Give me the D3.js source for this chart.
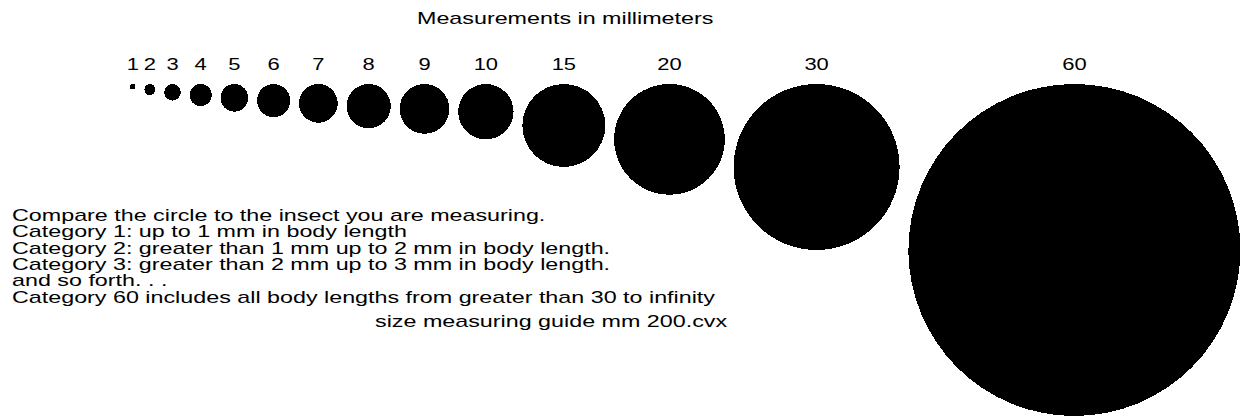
<!DOCTYPE html>
<html>
<head>
<meta charset="utf-8">
<script src="https://cdn.jsdelivr.net/npm/d3@7"></script>
<style>
  body { margin: 0; background: #fff; }
  text { font-family: "Liberation Sans", Arial, sans-serif; fill: #000; }
</style>
</head>
<body>
<div id="chart"></div>
<script>
// circle sizes in mm and the label over each one
const sizes = [1, 2, 3, 4, 5, 6, 7, 8, 9, 10, 15, 20, 30, 60];
const sizeLabels = ["1", "2", "3", "4", "5", "6", "7", "8", "9", "10", "15", "20", "30", "60"];

const title = "Measurements in millimeters";
const notes = [
	"Compare the circle to the insect you are measuring.",
	"Category 1: up to 1 mm in body length",
	"Category 2: greater than 1 mm up to 2 mm in body length.",
	"Category 3: greater than 2 mm up to 3 mm in body length.",
	"and so forth. . .",
	"Category 60 includes all body lengths from greater than 30 to infinity"
];
const caption = "size measuring guide mm 200.cvx";

const width = 1249, height = 417;
const startX = 130, gap = 8.8, topY = 84;
const stretch = 1.37; // the old bitmap font is much wider than Arial

const svg = d3.select("#chart").append("svg")
	.attr("width", width)
	.attr("height", height);

// radius in px for a size in mm
const r = d3.scaleLinear().domain([0, 60]).range([0, 166]);

// circles sit side by side, tops lined up
var lefts = [];
var x = startX;
sizes.forEach(s => {
	lefts.push(x);
	x += 2 * r(s) + gap;
});

svg.selectAll("circle.size")
	.data(sizes)
	.enter()
	.append("circle")
	.attr("class", "size")
	.attr("cx", (d, i) => lefts[i] + r(d))
	.attr("cy", d => topY + r(d))
	.attr("r", d => r(d))
	.attr("shape-rendering", "crispEdges")
	.style("fill", "#000");

function wide(sel) {
	sel.each(function() {
		var w = this.getComputedTextLength();
		d3.select(this)
			.attr("textLength", w * stretch)
			.attr("lengthAdjust", "spacingAndGlyphs");
	});
}

svg.selectAll("text.label")
	.data(sizes)
	.enter()
	.append("text")
	.attr("class", "label")
	.attr("x", (d, i) => lefts[i] + r(d))
	.attr("y", 70)
	.attr("text-anchor", "middle")
	.style("font-size", "16px")
	.text((d, i) => sizeLabels[i])
	.call(wide);

svg.append("text")
	.attr("x", 417)
	.attr("y", 24)
	.style("font-size", "17px")
	.text(title)
	.call(wide);

svg.selectAll("text.note")
	.data(notes)
	.enter()
	.append("text")
	.attr("class", "note")
	.attr("x", 12)
	.attr("y", (d, i) => 221 + i * 16.3)
	.style("font-size", "17px")
	.text(d => d)
	.call(wide);

svg.append("text")
	.attr("x", 375)
	.attr("y", 327)
	.style("font-size", "17px")
	.text(caption)
	.call(wide);
</script>
</body>
</html>
